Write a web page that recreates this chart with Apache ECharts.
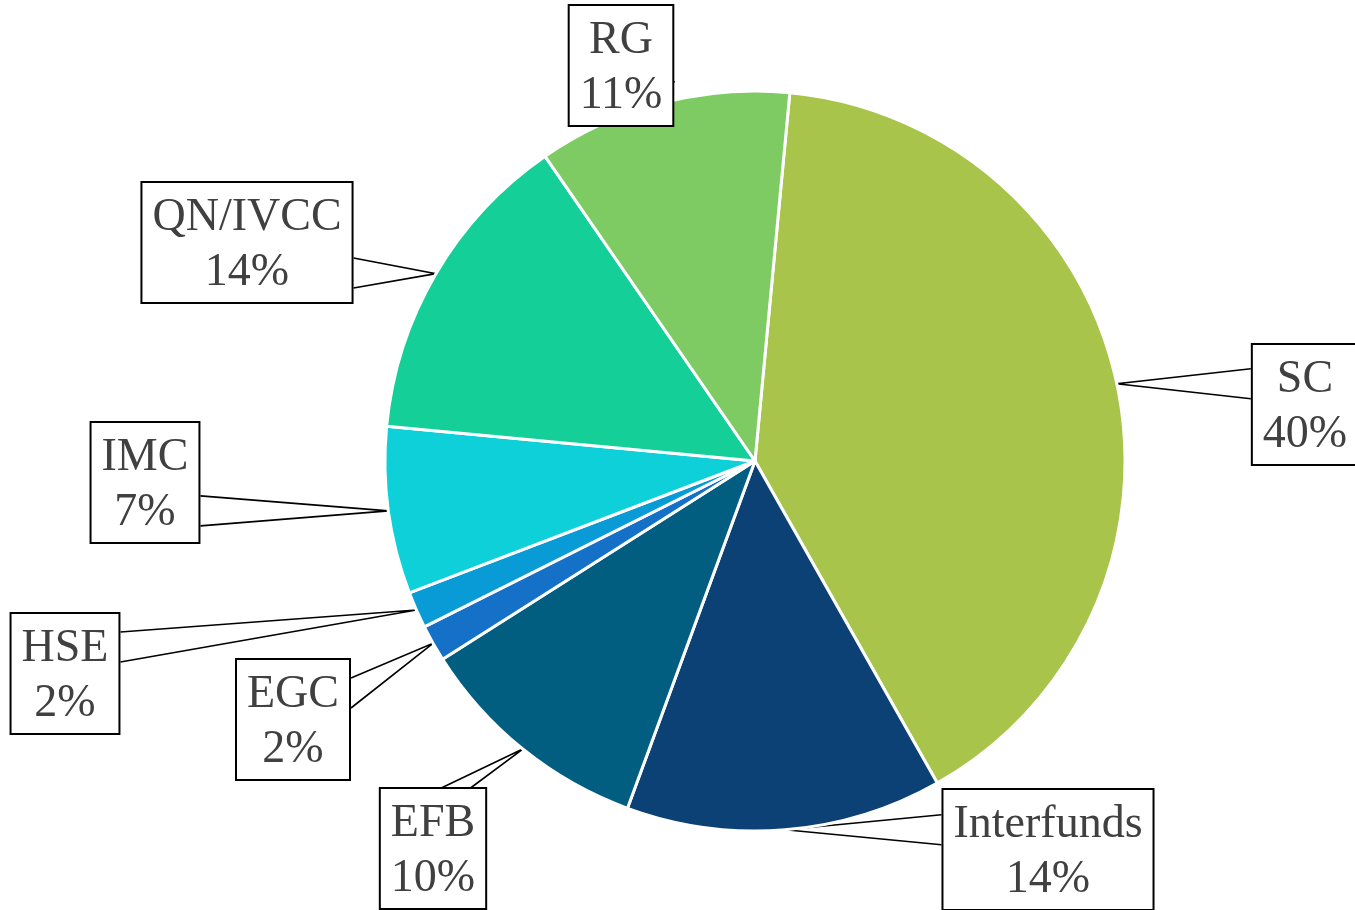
<!DOCTYPE html>
<html>
<head>
<meta charset="utf-8">
<script src="https://cdn.jsdelivr.net/npm/echarts@6/dist/echarts.min.js"></script>
<style>
html,body{margin:0;padding:0;background:#fff;}
#chart{width:1355px;height:910px;}
</style>
</head>
<body>
<div id="chart"></div>
<script>
// Data (clockwise from the top)
const categories = ['SC', 'Interfunds', 'EFB', 'EGC', 'HSE', 'IMC', 'QN/IVCC', 'RG'];
const shares = [40.3, 13.8, 10.4, 1.6, 1.6, 7.3, 13.9, 11.1];
const sliceColors = ['#A8C44B', '#0B4175', '#025E81', '#1570C7', '#089BD5', '#0DD0D9', '#14CF98', '#7ECB64'];

// Label box placement (center x, top y) - layout only
const labelPlacement = [
  [1305, 345], [1048, 790], [433, 789], [293, 660],
  [65, 614], [145, 423], [247, 183], [621, 6]
];

const CENTER = [755, 461];
const RADIUS = 370;
const START_ANGLE = 84.6;

const chart = echarts.init(document.getElementById('chart'), null, {renderer: 'canvas'});

function fallbackTip(idx) {
  const total = shares.reduce((a, b) => a + b, 0);
  let acc = 0;
  for (let i = 0; i < idx; i++) acc += shares[i];
  const mid = acc + shares[idx] / 2;
  const ang = (START_ANGLE - mid / total * 360) * Math.PI / 180;
  return [CENTER[0] + RADIUS * Math.cos(ang), CENTER[1] - RADIUS * Math.sin(ang)];
}

function clamp(v, lo, hi) { return Math.max(lo, Math.min(hi, v)); }

const option = {
  backgroundColor: '#ffffff',
  animation: false,
  series: [{
    type: 'pie',
    center: CENTER,
    radius: RADIUS,
    startAngle: START_ANGLE,
    clockwise: true,
    avoidLabelOverlap: false,
    emphasis: {disabled: true},
    itemStyle: {borderColor: '#ffffff', borderWidth: 3},
    label: {
      show: true,
      position: 'outside',
      formatter: function (p) { return p.name + '\n' + Math.round(p.value) + '%'; },
      fontFamily: 'Liberation Serif',
      fontSize: 46,
      lineHeight: 55,
      color: '#404040',
      align: 'center',
      backgroundColor: '#ffffff',
      borderColor: '#000000',
      borderWidth: 2,
      padding: [7, 10, 2, 10]
    },
    labelLine: {
      show: true,
      length: 10,
      length2: 10,
      lineStyle: {color: '#000000', width: 1.6}
    },
    labelLayout: function (params) {
      const idx = params.dataIndex;
      const pos = labelPlacement[idx];
      const w = params.labelRect.width;
      const h = params.labelRect.height;
      const left = pos[0] - w / 2, top = pos[1], right = left + w, bottom = top + h;
      const tip = (params.labelLinePoints && params.labelLinePoints[0]) ? params.labelLinePoints[0] : fallbackTip(idx);
      const half = 15, margin = 33;
      const dxOut = tip[0] < left ? left - tip[0] : (tip[0] > right ? tip[0] - right : 0);
      const dyOut = tip[1] < top ? top - tip[1] : (tip[1] > bottom ? tip[1] - bottom : 0);
      let a, b;
      if (dxOut >= dyOut) {
        const ex = tip[0] < left ? left : right;
        const cy = clamp(tip[1], top + margin, bottom - margin);
        a = [ex, cy - half]; b = [ex, cy + half];
      } else {
        const ey = tip[1] < top ? top : bottom;
        const cx = clamp(tip[0], left + margin, right - margin);
        a = [cx - half, ey]; b = [cx + half, ey];
      }
      return {
        x: pos[0],
        y: pos[1],
        align: 'center',
        verticalAlign: 'top',
        labelLinePoints: [a, tip, b]
      };
    },
    data: categories.map((c, i) => ({
      name: c,
      value: shares[i],
      itemStyle: {color: sliceColors[i]}
    }))
  }]
};

chart.setOption(option);
</script>
</body>
</html>
